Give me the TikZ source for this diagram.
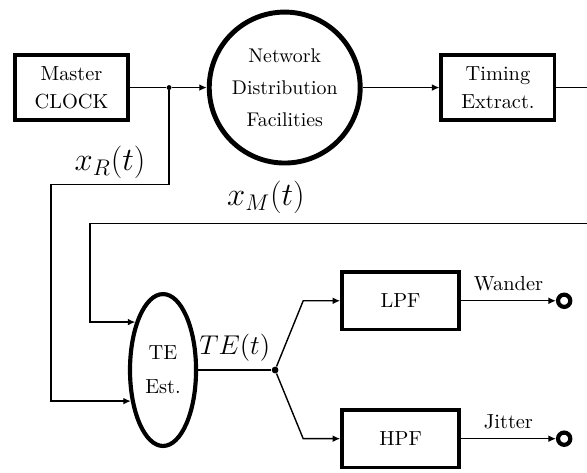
\documentclass[tikz,border=0pt]{standalone}
\usepackage{amsmath}
\usepackage{tikz}
\usetikzlibrary{shapes.geometric, arrows.meta, positioning, calc}

\tikzstyle{block} = [rectangle, minimum width=60pt, minimum height=34.5pt, inner sep=1pt, text centered, align=center, draw=black, line width=2pt, font=\fontsize{10.8}{15}\selectfont]
\tikzstyle{filter} = [rectangle, minimum width=62pt, minimum height=30.5pt, text centered, draw=black, line width=2pt, font=\fontsize{10.8}{12}\selectfont]
\tikzstyle{network} = [circle, minimum size=80pt, inner sep=0pt, align=center, draw=black, line width=2.6pt, font=\fontsize{10.5}{17}\selectfont]
\tikzstyle{estimator} = [ellipse, minimum width=35pt, minimum height=80.5pt, inner sep=0pt, align=center, draw=black, line width=2.2pt, font=\fontsize{10.8}{18}\selectfont]
\tikzstyle{dot} = [circle, fill=black, inner sep=0pt, minimum size=2.6pt]
\tikzstyle{terminal} = [circle, draw=black, fill=white, line width=2.2pt, inner sep=0pt, minimum size=6.5pt]
\tikzstyle{signal} = [line width=0.75pt]
\tikzstyle{arrow} = [signal, -{Latex[length=4pt,width=3.6pt]}]
\tikzstyle{sig} = [font=\fontsize{16.5}{18}\selectfont, above]
\tikzstyle{tag} = [font=\fontsize{10.8}{12}\selectfont, inner sep=2pt, above=3pt]

\begin{document}
\begin{tikzpicture}[node distance=113pt]
\useasboundingbox (-37.9pt,46.4pt) rectangle (273.2pt,-203.8pt);

% clock distribution chain
\node (clock) [block] {Master\\CLOCK};
\node (ndf) [network, right of=clock] {Network\\Distribution\\Facilities};
\node (timing) [block, right of=ndf] {Timing\\Extract.};
\node (tap) [dot, right of=clock, node distance=51.7pt] {};
\coordinate [right of=timing, node distance=47.2pt] (rx);
\coordinate [below of=rx, node distance=72.1pt] (mx);

% measurement side
\node (te) [estimator, below of=clock, xshift=48.5pt, yshift=-36.7pt] {TE\\Est.};
\node (fork) [dot, minimum size=3.6pt, right of=te, node distance=59.4pt] {};
\node (lpf) [filter, below of=ndf, xshift=61.4pt] {LPF};
\node (hpf) [filter, below of=lpf, node distance=73.1pt] {HPF};
\node (wander) [terminal, right of=lpf, node distance=86.7pt] {};
\node (jitter) [terminal, right of=hpf, node distance=86.7pt] {};

\draw [signal] (clock) -- (tap);
\draw [arrow] (tap) -- (ndf);
\draw [arrow] (ndf) -- (timing);
\draw [signal] (timing) -- (rx);

\draw [arrow] (tap) -- ++(0,-51.4pt) -- ++(-62.5pt,0) node[sig, midway, inner sep=2.5pt] {$x_R(t)$} |- (te.224);
\draw [arrow] (mx) -- node[sig, pos=0.646, inner sep=5pt] {$x_M(t)$} ++(-263.4pt,0) |- (te.120);

\draw [signal] (te) -- node[sig, inner sep=4pt, font=\fontsize{15}{17}\selectfont] {$TE(t)$} (fork);
\draw [arrow] (fork) -- ([xshift=-19.6pt]lpf.west) -- (lpf.west);
\draw [arrow] (fork) -- ([xshift=-19.6pt]hpf.west) -- (hpf.west);

\draw [arrow] (lpf) -- node[tag] {Wander} (wander);
\draw [arrow] (hpf) -- node[tag] {Jitter} (jitter);
\end{tikzpicture}
\end{document}
